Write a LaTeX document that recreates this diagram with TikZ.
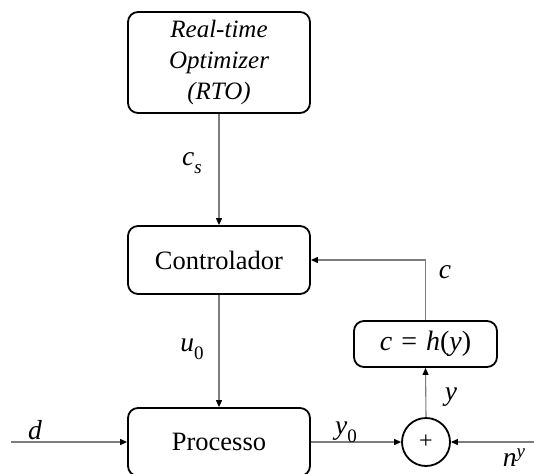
\documentclass[tikz,border=0pt]{standalone}
\usepackage{fontspec}
\setmainfont{Liberation Serif}
\usetikzlibrary{arrows.meta,shapes.geometric}
\definecolor{wire}{RGB}{125,125,125}
% italic variable letters set in the text face
\newcommand{\sv}[1]{\textit{#1}}
\newcommand{\sub}[1]{\raisebox{-0.28em}{\fontsize{19}{20}\selectfont #1}}
\newcommand{\sups}[1]{\raisebox{0.3em}{\fontsize{19}{20}\selectfont #1}}
\begin{document}
\begin{tikzpicture}[x=1pt,y=-1pt,
  block/.style={draw=black,line width=1.8pt,rounded corners=10pt,
    font=\fontsize{26.5}{31}\selectfont,align=center,inner sep=0pt},
  sumnode/.style={draw=black,line width=1.8pt,circle,minimum size=48pt,inner sep=0pt,
    font=\fontsize{24}{26}\selectfont},
  wireline/.style={draw=wire,line width=1.1pt,-{Triangle[length=7pt,width=6pt,color=black]}},
  sig/.style={font=\fontsize{27.5}{30}\selectfont,inner sep=0pt}]
\useasboundingbox (0,0) rectangle (534,473);

% blocks
\node[block,minimum width=182pt,minimum height=101pt,font=\fontsize{25}{31}\selectfont\itshape] (rto) at (219,62.5)
  {Real-time\\Optimizer\\(RTO)};
\node[block,minimum width=182pt,minimum height=68pt] (ctrl) at (219,260) {Controlador};
\node[block,minimum width=182pt,minimum height=68pt] (proc) at (219,442) {Processo};
\node[block,minimum width=143pt,minimum height=46pt,font=\fontsize{28}{31}\selectfont] (hbox) at (425.5,344)
  {\sv{c}\hspace{9pt}=\hspace{9pt}\sv{h}(\sv{y})};
\node[sumnode] (sum) at (426,442) {+};

% free ends of the external inputs
\coordinate (din) at (11,442);
\coordinate (nin) at (534,442);

% signal paths
\draw[wireline] (rto.south) -- (ctrl.north);
\draw[wireline] (ctrl.south) -- (proc.north);
\draw[wireline] (din) -- (proc.west);
\draw[wireline] (proc.east) -- (sum.west);
\draw[wireline] (nin) -- (sum.east);
\draw[wireline] (sum.north) -- (hbox.south);
\draw[wireline] (hbox.north) |- (ctrl.east);

% signal labels
\node[sig] (lcs) at (192,163) {\sv{c}\sub{\sv{s}}};
\node[sig] (lu0) at (192,349) {\sv{u}\sub{0}};
\node[sig] (ld) at (35,430) {\sv{d}};
\node[sig] (ly0) at (346,432) {\sv{y}\sub{0}};
\node[sig,anchor=base] (lny) at (514,466) {\sv{n}\sups{\sv{y}}};
\node[sig] (ly) at (451,397) {\sv{y}};
\node[sig] (lc) at (445,272) {\sv{c}};
\end{tikzpicture}
\end{document}
